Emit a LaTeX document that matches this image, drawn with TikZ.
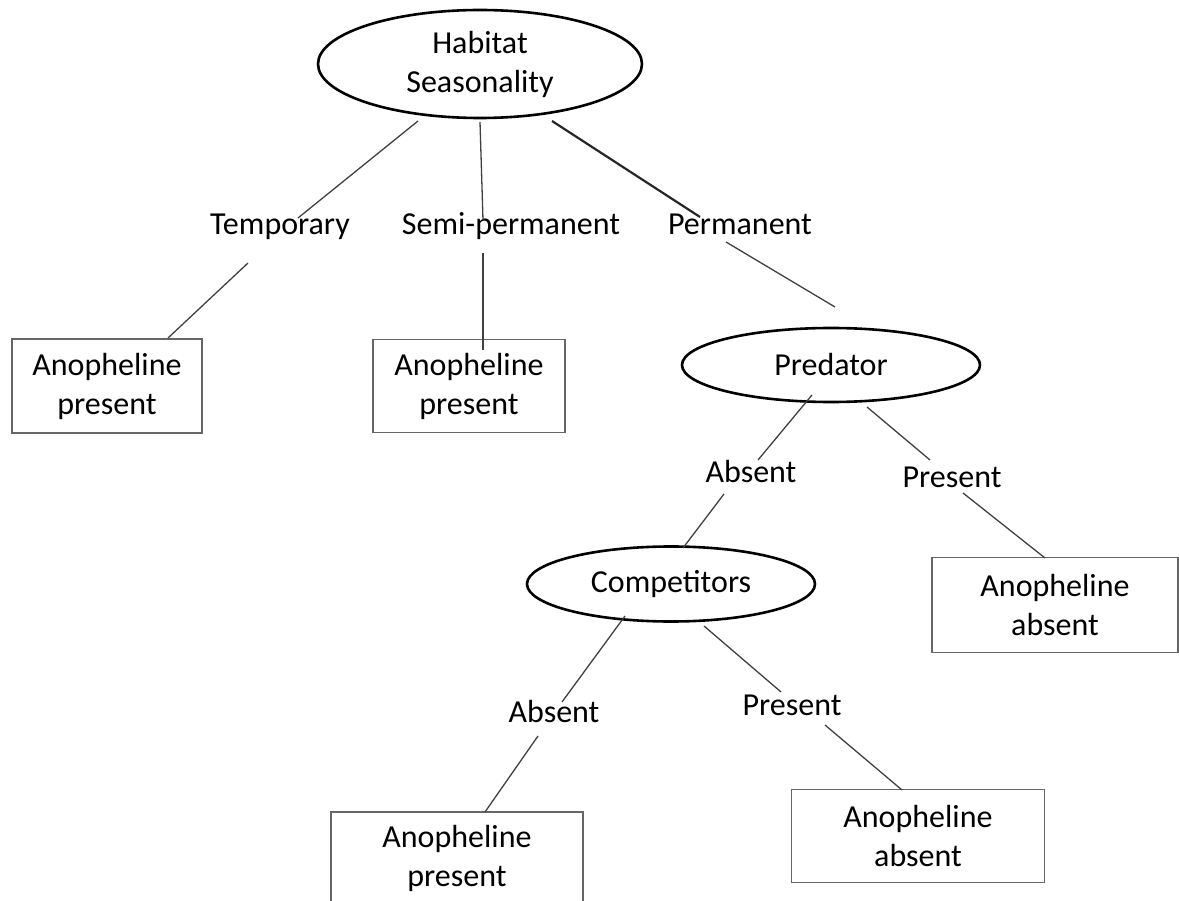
\documentclass[tikz,border=0pt]{standalone}
\usepackage{fontspec}
\setmainfont{Carlito}
\usepackage{tikz}
\usetikzlibrary{shapes,calc}
\tikzstyle{factor}=[ellipse,draw=black,line width=2.6pt,inner sep=0pt,align=center]
\tikzstyle{outcome}=[rectangle,draw=black!60,line width=1.6pt,inner sep=0pt,align=center]
\tikzstyle{level}=[inner sep=0pt,text height=22pt,text depth=7pt]
\tikzstyle{edge} = [draw,line width=1.3pt,black!75]

\begin{document}
\begin{tikzpicture}[x=1pt,y=-1pt,every node/.style={font=\fontsize{32}{39}\selectfont}]
    \useasboundingbox (0,0) rectangle (1179,901);
    % Draw the decision tree
    % First the factors (ellipses)
    \node[factor,minimum width=324pt,minimum height=108pt] (hab) at (480,64) {Habitat\\Seasonality};
    \node[factor,minimum width=298pt,minimum height=74pt] (pred) at (831,365) {Predator};
    \node[factor,minimum width=288pt,minimum height=75pt] (comp) at (671,584) {Competitors};
    % Then the branch labels
    \foreach \pos/\name/\txt in {{(280,227)/temp/Temporary}, {(511,227)/semi/Semi-permanent},
        {(740,227)/perm/Permanent}, {(751,475)/absA/Absent}, {(952,480)/presA/Present},
        {(554,715)/absB/Absent}, {(792,708)/presB/Present}}
        \node[level] (\name) at \pos {\txt};
    % Then the outcomes
    \foreach \pos/\name/\w/\h/\txt in {{(107,386)/box1/190/94/Anopheline\\present},
        {(469,386)/box2/192/93/Anopheline\\present}, {(1055,605)/box3/246/95/Anopheline\\absent},
        {(457,858)/box4/252/92/Anopheline\\present}, {(918,836)/box5/253/93/Anopheline\\absent}}
        \node[outcome,minimum width=\w pt,minimum height=\h pt] (\name) at \pos {\txt};
    % Connect everything with edges
    \foreach \a/\ax/\ay/\b/\bx/\by in {hab/-62/57/temp/18/-9, temp/-32/36/box1/61/-48,
        hab/0/58/semi/-28/-7, semi/-28/26/box2/14/-36, perm/-14/15/pred/4/-58,
        pred/-19/30/absA/7/-15, absA/-27/19/comp/12/-36, pred/36/42/presA/-22/-20,
        presA/11/13/box3/-10/-47, comp/-46/32/absB/8/-13, absB/-16/21/box4/28/-46,
        comp/33/42/presB/-11/-16, presB/33/17/box5/-16/-46}
        \path[edge] ($(\a)+(\ax,\ay)$) -- ($(\b)+(\bx,\by)$);
    \path[edge,line width=2.2pt,black!85] ($(hab)+(72,57)$) -- ($(perm)+(-40,-10)$);
\end{tikzpicture}
\end{document}
